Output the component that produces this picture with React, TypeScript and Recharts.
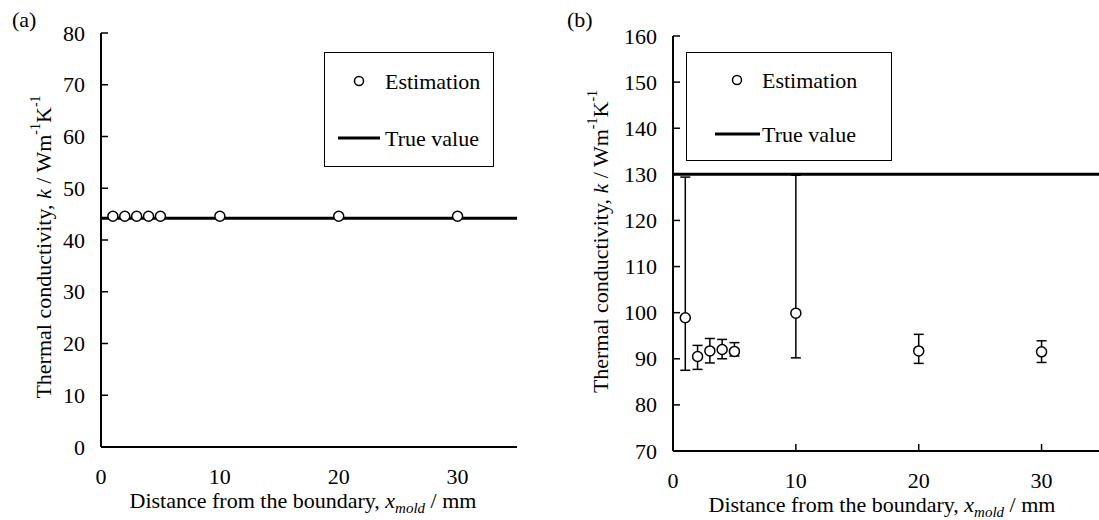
import React from "react";
import {
  ComposedChart,
  Scatter,
  ErrorBar,
  XAxis,
  YAxis,
  ReferenceLine,
} from "recharts";

// distance from boundary (mm)
const distances = [1, 2, 3, 4, 5, 10, 20, 30];

// panel (a)
const kEstA = [44.6, 44.6, 44.6, 44.6, 44.6, 44.6, 44.6, 44.6];
const kTrueA = 44.2;

// panel (b)
const kEstB = [98.9, 90.5, 91.7, 92.0, 91.6, 99.9, 91.7, 91.5];
const kLowB = [87.5, 87.7, 89.1, 90.0, 90.6, 90.2, 89.0, 89.2];
const kHighB = [129.4, 92.9, 94.4, 94.2, 93.5, 129.8, 95.3, 93.9];
const kTrueB = 130;

const xTicks = [0, 10, 20, 30];
const yTicksA = [0, 10, 20, 30, 40, 50, 60, 70, 80];
const yTicksB = [70, 80, 90, 100, 110, 120, 130, 140, 150, 160];

const FONT = '"Liberation Serif", "Times New Roman", Times, "DejaVu Serif", serif';

const rowsA = distances.map((x, i) => ({ x, k: kEstA[i] }));
const rowsB = distances.map((x, i) => ({
  x,
  k: kEstB[i],
  err: [kEstB[i] - kLowB[i], kHighB[i] - kEstB[i]],
}));

const txt = { fontFamily: FONT, fontSize: 22, fill: "#000" };

const LeftTick = (p: any) => (
  <g>
    <line x1={p.x} y1={p.y} x2={p.x + 7} y2={p.y} stroke="#000" strokeWidth={1.5} />
    <text x={p.x - 16} y={p.y} textAnchor="end" dominantBaseline="central" style={txt}>
      {p.payload.value}
    </text>
  </g>
);

const RightTick = (p: any) => (
  <line x1={p.x} y1={p.y} x2={p.x - 7} y2={p.y} stroke="#000" strokeWidth={1.5} />
);

const TopTick = (p: any) => (
  <line x1={p.x} y1={p.y} x2={p.x} y2={p.y + 7} stroke="#000" strokeWidth={1.5} />
);

const makeBottomTick = (inward: boolean) => (p: any) => (
  <g>
    {inward && <line x1={p.x} y1={p.y} x2={p.x} y2={p.y - 7} stroke="#000" strokeWidth={1.5} />}
    <text x={p.x} y={p.y + 29} textAnchor="middle" dominantBaseline="central" style={txt}>
      {p.payload.value}
    </text>
  </g>
);

const makeYTitle = (dx: number, dyc: number) => (props: any) => {
  const vb = props.viewBox;
  const cx = vb.x + dx;
  const cy = vb.y + vb.height / 2 + dyc;
  return (
    <text
      x={cx}
      y={cy}
      transform={`rotate(-90, ${cx}, ${cy})`}
      textAnchor="middle"
      dominantBaseline="central"
      style={txt}
    >
      Thermal conductivity, <tspan fontStyle="italic">k</tspan> / Wm
      <tspan dy={-8} style={{ fontSize: 14 }}>-1</tspan>
      <tspan dy={8}>K</tspan>
      <tspan dy={-8} style={{ fontSize: 14 }}>-1</tspan>
    </text>
  );
};

const makeXTitle = (dxc: number, dy: number) => (props: any) => {
  const vb = props.viewBox;
  const cx = vb.x + vb.width / 2 + dxc;
  const cy = vb.y + dy;
  return (
    <text x={cx} y={cy} textAnchor="middle" style={txt}>
      Distance from the boundary, <tspan fontStyle="italic">x</tspan>
      <tspan fontStyle="italic" dy={5} style={{ fontSize: 15 }}>mold</tspan>
      <tspan dy={-5}> / mm</tspan>
    </text>
  );
};

const Marker = (p: any) => (
  <circle cx={p.cx} cy={p.cy} r={5} fill="#fff" stroke="#000" strokeWidth={1.5} />
);

const axisStroke = { stroke: "#000", strokeWidth: 2 };

interface LegendBoxProps {
  left: number;
  top: number;
  width: number;
  height: number;
  circleX: number;
  circleY: number;
  lineX1: number;
  lineX2: number;
  lineY: number;
  textX: number;
}

function LegendBox(p: LegendBoxProps) {
  return (
    <div
      style={{
        position: "absolute",
        left: p.left,
        top: p.top,
        width: p.width,
        height: p.height,
        border: "1.5px solid #000",
        boxSizing: "border-box",
        background: "#fff",
      }}
    >
      <svg width={p.width} height={p.height} style={{ position: "absolute", left: -1.5, top: -1.5 }}>
        <circle cx={p.circleX} cy={p.circleY} r={4.5} fill="#fff" stroke="#000" strokeWidth={1.5} />
        <line x1={p.lineX1} y1={p.lineY} x2={p.lineX2} y2={p.lineY} stroke="#000" strokeWidth={3} />
        <text x={p.textX} y={p.circleY} dominantBaseline="central" style={txt}>
          Estimation
        </text>
        <text x={p.textX} y={p.lineY} dominantBaseline="central" style={txt}>
          True value
        </text>
      </svg>
    </div>
  );
}

export default function App() {
  return (
    <div
      style={{
        position: "absolute",
        left: 0,
        top: 0,
        width: 1099,
        height: 520,
        overflow: "hidden",
        background: "#fff",
        fontFamily: FONT,
      }}
    >
      {/* panel (a) */}
      <div style={{ position: "absolute", left: 0, top: 0 }}>
        <ComposedChart width={550} height={520} data={rowsA} margin={{ top: 33, right: 33, bottom: 0, left: 0 }}>
          <XAxis
            xAxisId="b"
            type="number"
            dataKey="x"
            domain={[0, 35]}
            ticks={xTicks}
            height={73}
            tickSize={0}
            tickMargin={0}
            tickLine={false}
            axisLine={axisStroke}
            tick={makeBottomTick(false)}
            label={makeXTitle(-6, 61)}
          />
          <XAxis xAxisId="t" orientation="top" type="number" domain={[0, 35]} ticks={xTicks} height={0} tick={false} tickLine={false} axisLine={axisStroke} />
          <YAxis
            yAxisId="l"
            type="number"
            domain={[0, 80]}
            ticks={yTicksA}
            width={101}
            tickSize={0}
            tickMargin={0}
            tickLine={false}
            axisLine={axisStroke}
            tick={LeftTick}
            label={makeYTitle(43, 7)}
          />
          <YAxis yAxisId="r" orientation="right" type="number" domain={[0, 80]} ticks={yTicksA} width={0} tickSize={0} tickMargin={0} tickLine={false} axisLine={axisStroke} tick={RightTick} />
          <ReferenceLine xAxisId="b" yAxisId="l" y={kTrueA} stroke="#000" strokeWidth={3} />
          <Scatter xAxisId="b" yAxisId="l" dataKey="k" shape={Marker} isAnimationActive={false} />
        </ComposedChart>
      </div>

      {/* panel (b) */}
      <div style={{ position: "absolute", left: 560, top: 0 }}>
        <ComposedChart width={545} height={520} data={rowsB} margin={{ top: 36, right: 2, bottom: 0, left: 0 }}>
          <XAxis
            xAxisId="b"
            type="number"
            dataKey="x"
            domain={[0, 35]}
            ticks={xTicks}
            height={69}
            tickSize={0}
            tickMargin={0}
            tickLine={false}
            axisLine={axisStroke}
            tick={makeBottomTick(true)}
            label={makeXTitle(-6, 61)}
          />
          <XAxis xAxisId="t" orientation="top" type="number" domain={[0, 35]} ticks={xTicks} height={0} tickSize={0} tickMargin={0} tickLine={false} axisLine={axisStroke} tick={TopTick} />
          <YAxis
            yAxisId="l"
            type="number"
            domain={[70, 160]}
            ticks={yTicksB}
            width={113}
            tickSize={0}
            tickMargin={0}
            tickLine={false}
            axisLine={axisStroke}
            tick={LeftTick}
            label={makeYTitle(40, -2)}
          />
          <YAxis yAxisId="r" orientation="right" type="number" domain={[70, 160]} ticks={yTicksB} width={0} tickSize={0} tickMargin={0} tickLine={false} axisLine={axisStroke} tick={RightTick} />
          <ReferenceLine xAxisId="b" yAxisId="l" y={kTrueB} stroke="#000" strokeWidth={3} />
          <Scatter xAxisId="b" yAxisId="l" dataKey="k" shape={Marker} isAnimationActive={false}>
            <ErrorBar dataKey="err" direction="y" width={5} stroke="#000" strokeWidth={1.5} isAnimationActive={false} />
          </Scatter>
        </ComposedChart>
      </div>

      <LegendBox left={324} top={52} width={170} height={115} circleX={35} circleY={29} lineX1={14} lineX2={56} lineY={86} textX={61} />
      <LegendBox left={686} top={52} width={206} height={109} circleX={51} circleY={28} lineX1={29} lineX2={74} lineY={82} textX={76} />

      <div style={{ position: "absolute", left: 12, top: 9, fontSize: 22, lineHeight: "22px" }}>(a)</div>
      <div style={{ position: "absolute", left: 567, top: 9, fontSize: 22, lineHeight: "22px" }}>(b)</div>
    </div>
  );
}
